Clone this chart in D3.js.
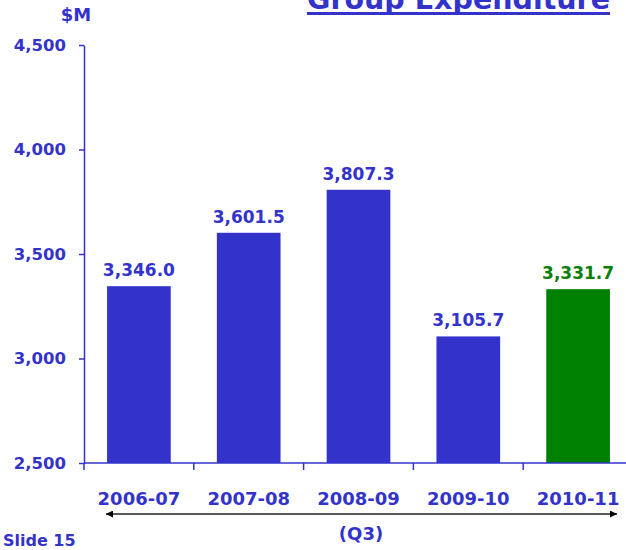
<!DOCTYPE html>
<html><head><meta charset="utf-8">
<script src="https://cdn.jsdelivr.net/npm/d3@7"></script>
<style>html,body{margin:0;padding:0;background:#fff;}svg{display:block;}</style>
</head><body>
<svg id="chart" width="626" height="550"></svg>
<script>
const categories = ["2006-07","2007-08","2008-09","2009-10","2010-11"];
const values = [3346.0, 3601.5, 3807.3, 3105.7, 3331.7];
const yTicks = [2500, 3000, 3500, 4000, 4500];
const title = "Group Expenditure";
const unitLabel = "$M";
const periodLabel = "(Q3)";
const slideLabel = "Slide 15";

const blue = "#3333cc", green = "#008000", greenText = "#0a800a";
const font = "'DejaVu Sans', Verdana, sans-serif";
const svg = d3.select("#chart");

const x = d3.scaleBand().domain(categories).range([84, 633]).paddingInner(0.42).paddingOuter(0.21);
const y = d3.scaleLinear().domain([2500, 4500]).range([463, 45]);

// bars
svg.selectAll("rect.bar").data(values).join("rect").attr("class","bar")
  .attr("x",(d,i)=>x(categories[i])).attr("width",x.bandwidth())
  .attr("y",d=>y(d)).attr("height",d=>y(2500)-y(d))
  .attr("fill",(d,i)=>i===values.length-1?green:blue);

// value labels
svg.selectAll("text.val").data(values).join("text").attr("class","val")
  .attr("x",(d,i)=>x(categories[i])+x.bandwidth()/2).attr("y",d=>y(d)-10)
  .attr("text-anchor","middle").attr("font-family",font).attr("font-weight","bold")
  .attr("font-size",17).attr("fill",(d,i)=>i===values.length-1?greenText:blue)
  .text(d=>d3.format(",.1f")(d));

// y axis
const yAxis = d3.axisLeft(y).tickValues(yTicks).tickFormat(d3.format(",")).tickSize(5).tickSizeOuter(0).tickPadding(13);
const gy = svg.append("g").attr("transform","translate(84,0)").call(yAxis);
gy.select(".domain").attr("stroke",blue).attr("stroke-width",1.5);
gy.selectAll(".tick line").attr("stroke",blue).attr("stroke-width",1.5);
gy.selectAll(".tick text").attr("fill",blue).attr("font-family",font).attr("font-weight","bold").attr("font-size",16.5);

// x axis
const gx = svg.append("g").attr("transform","translate(0,463)").call(d3.axisBottom(x).tickSize(0).tickPadding(29));
gx.select(".domain").remove();
gx.append("line").attr("x1",84).attr("x2",626).attr("y1",0).attr("y2",0).attr("stroke",blue).attr("stroke-width",1.5);
const step = x.step();
const bounds = d3.range(categories.length+1).map(i=>x.range()[0]+i*step);
gx.selectAll("line.sep").data(bounds).join("line").attr("class","sep")
  .attr("x1",d=>d).attr("x2",d=>d).attr("y1",0).attr("y2",7).attr("stroke",blue).attr("stroke-width",1.5);
gx.selectAll(".tick text").attr("fill",blue).attr("font-family",font).attr("font-weight","bold").attr("font-size",18);

// unit label
svg.append("text").attr("x",76).attr("y",21).attr("text-anchor","middle").attr("font-family",font)
  .attr("font-weight","bold").attr("font-size",18).attr("fill",blue).text(unitLabel);

// title with underline
const t = svg.append("text").attr("x",610).attr("y",9).attr("text-anchor","end").attr("font-family",font)
  .attr("font-weight","bold").attr("font-size",28.5).attr("fill",blue).text(title);
const tb = t.node().getBBox();
svg.append("rect").attr("x",tb.x).attr("y",12).attr("width",tb.width).attr("height",3).attr("fill",blue);

// arrow
const defs = svg.append("defs");
["s","e"].forEach(k=>{
  defs.append("marker").attr("id","arr"+k).attr("viewBox","0 0 10 10").attr("refX",k==="e"?10:0).attr("refY",5)
    .attr("markerWidth",7).attr("markerHeight",7).attr("markerUnits","userSpaceOnUse").attr("orient","auto")
    .append("path").attr("d",k==="e"?"M0,0L10,5L0,10Z":"M10,0L0,5L10,10Z").attr("fill","#000");
});
svg.append("line").attr("x1",106).attr("x2",617).attr("y1",514).attr("y2",514)
  .attr("stroke","#222").attr("stroke-width",1.5).attr("marker-start","url(#arrs)").attr("marker-end","url(#arre)");

svg.append("text").attr("x",361).attr("y",540).attr("text-anchor","middle").attr("font-family",font)
  .attr("font-weight","bold").attr("font-size",18).attr("fill",blue).text(periodLabel);
svg.append("text").attr("x",3).attr("y",546).attr("font-family",font)
  .attr("font-weight","bold").attr("font-size",16).attr("fill",blue).text(slideLabel);
</script>
</body></html>
